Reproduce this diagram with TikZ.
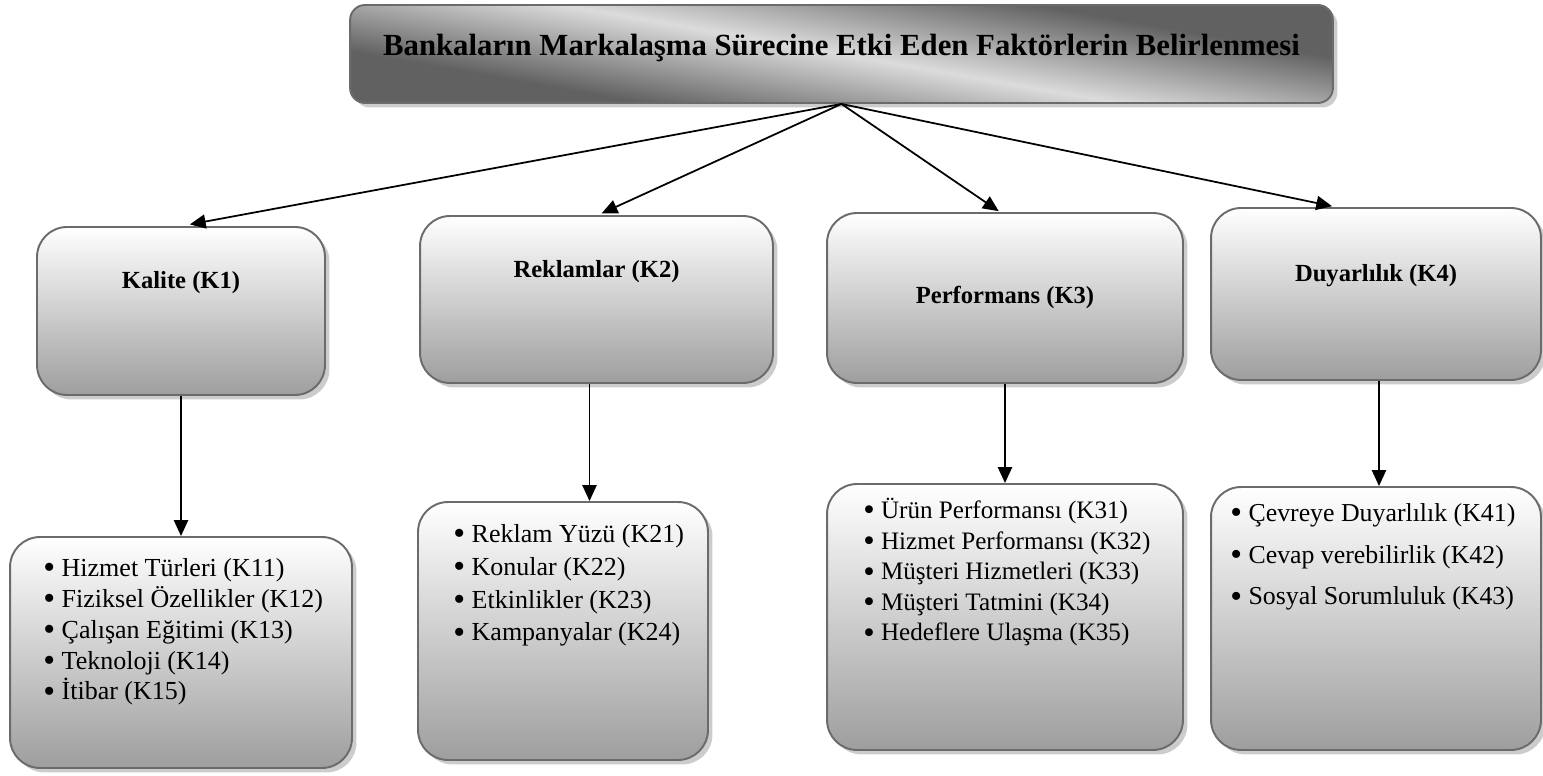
\documentclass[tikz,border=0pt]{standalone}
\usepackage{fontspec}
\usepackage{graphicx}
\setmainfont{Liberation Serif}
\usetikzlibrary{positioning,shadows,arrows.meta}
\pgfdeclareverticalshading{titleshade}{100bp}{color(0bp)=(black!62); color(32bp)=(black!62); color(50bp)=(black!14); color(68bp)=(black!62); color(100bp)=(black!62)}
\newcommand{\itm}{\smash{\raisebox{-1.3pt}{\scalebox{1.3}{\textbullet}}}\ }

\begin{document}
\begin{tikzpicture}
    [x=0.02cm, y=-0.02cm,
     box/.style={draw=black!58, line width=1.1pt, rounded corners=0.6cm, inner sep=0pt,
       top color=white, bottom color=black!38,
       drop shadow={shadow xshift=0.09cm, shadow yshift=-0.09cm, fill=black!22, opacity=0.9}},
     head/.style={font=\fontsize{14}{17}\selectfont\bfseries, inner sep=0pt},
     items/.style={font=\fontsize{14.8}{17.6}\selectfont, align=left, inner sep=0pt, anchor=base west},
     arr/.style={-{Triangle[length=9pt,width=8pt]}, line width=1pt}]
  \useasboundingbox (0,0) rectangle (1543,776);

  % title
  \node[box, rounded corners=0.3cm, minimum width=19.66cm, minimum height=1.96cm,
        shading=titleshade, shading angle=-10] (title) at (841.5,54) {};
  \node[head, font=\fontsize{17.5}{20}\selectfont\bfseries] (titlet) at (841.5,48) {Bankaların Markalaşma Sürecine Etki Eden Faktörlerin Belirlenmesi};

  % factors
  \node[box, minimum width=5.76cm, minimum height=3.36cm] (k1) at (181,311) {};
  \node[head] (k1t) at (181,283) {Kalite (K1)};
  \node[box, minimum width=7.06cm, minimum height=3.34cm] (k2) at (596.5,299.5) {};
  \node[head] (k2t) at (596.5,272) {Reklamlar (K2)};
  \node[box, minimum width=7.12cm, minimum height=3.4cm] (k3) at (1005,298) {};
  \node[head] (k3t) at (1005,297) {Performans (K3)};
  \node[box, minimum width=6.6cm, minimum height=3.44cm] (k4) at (1376,294) {};
  \node[head] (k4t) at (1376,276) {Duyarlılık (K4)};

  % sub factors (anchored at the baseline of the last line)
  \node[box, minimum width=6.84cm, minimum height=4.62cm] (k1list) at (181,652.5) {};
  \node[items] (k1i) at (43,700) {\itm Hizmet Türleri (K11)\\ \itm Fiziksel Özellikler (K12)\\
    \itm Çalışan Eğitimi (K13)\\ \itm Teknoloji (K14)\\ \itm İtibar (K15)};
  \node[box, minimum width=5.8cm, minimum height=5.16cm] (k2list) at (563,631) {};
  \node[items, font=\fontsize{14.8}{18.7}\selectfont] (k2i) at (453,641) {\itm Reklam Yüzü (K21)\\ \itm Konular (K22)\\
    \itm Etkinlikler (K23)\\ \itm Kampanyalar (K24)};
  \node[box, minimum width=7.12cm, minimum height=5.32cm] (k3list) at (1005,617) {};
  \node[items, font=\fontsize{14.3}{17.4}\selectfont] (k3i) at (863,641) {\itm Ürün Performansı (K31)\\ \itm Hizmet Performansı (K32)\\
    \itm Müşteri Hizmetleri (K33)\\ \itm Müşteri Tatmini (K34)\\ \itm Hedeflere Ulaşma (K35)};
  \node[box, minimum width=6.6cm, minimum height=5.26cm] (k4list) at (1376,618.5) {};
  \node[items, font=\fontsize{14.7}{23.8}\selectfont] (k4i) at (1230,605) {\itm Çevreye Duyarlılık (K41)\\ \itm Cevap verebilirlik (K42)\\
    \itm Sosyal Sorumluluk (K43)};

  \foreach \to/\dx/\gap in {k1/0cm/0.18cm, k2/0.03cm/0.08cm, k3/-0.1cm/0.03cm, k4/-0.8cm/0.08cm}
    \draw[arr, shorten >=\gap] (title.south) -- ([xshift=\dx]\to.north);
  \foreach \from/\to/\dx in {k1/k1list/0cm, k2/k2list/-0.14cm, k3/k3list/0cm, k4/k4list/0.06cm}
    \draw[arr] ([xshift=\dx]\from.south) -- ([xshift=\dx]\from.south |- \to.north);
\end{tikzpicture}
\end{document}
